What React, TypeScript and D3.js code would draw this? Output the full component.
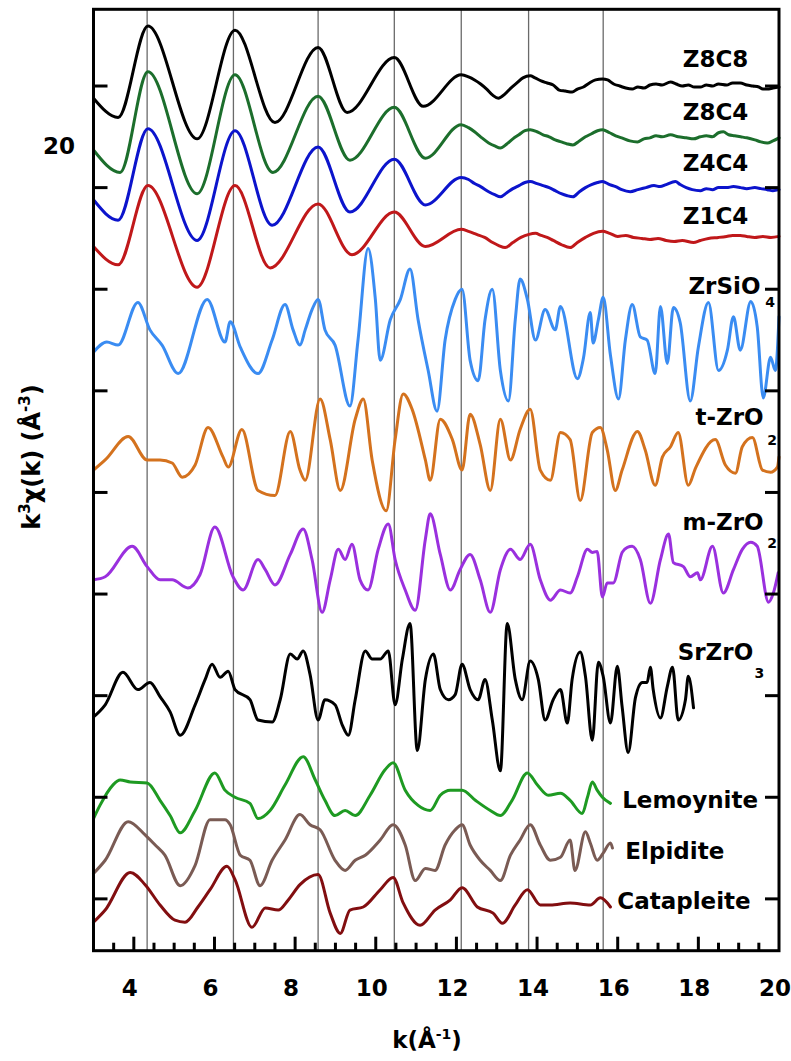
import React from 'react';
import * as d3 from 'd3';

// ---------- axes / reference values ----------
const K_DOMAIN: [number, number] = [3, 20];
const Y_DOMAIN: [number, number] = [-51, 875.5];
const X_MAJOR_TICKS = [4, 6, 8, 10, 12, 14, 16, 18, 20];
const X_MINOR_TICKS = [3.5, 4.5, 5, 5.5, 6.5, 7, 7.5, 8.5, 9, 9.5, 10.5, 11, 11.5, 12.5, 13, 13.5, 14.5, 15, 15.5, 16.5, 17, 17.5, 18.5, 19, 19.5];
const Y_TICKS = [0, 100, 200, 300, 400, 500, 600, 700, 800];
const Y_TEXT_LABEL = '20';
const Y_TEXT_VALUE = 741;
const VLINES_K = [4.33, 6.47, 8.57, 10.46, 12.12, 13.79, 15.64];

// ---------- series (k, displacement from series offset) ----------
const Z8C8: [number, number][] = [[3.0,-12],[3.61,-31],[4.35,59],[5.57,-52],[6.51,55],[7.5,-36],[8.57,38],[9.29,-26],[10.46,28],[11.18,-20],[12.12,11],[12.3,9],[12.45,6],[12.6,2],[12.75,-3],[12.9,-9],[13.04,-12],[13.2,-8],[13.35,-2],[13.5,3],[13.65,8],[13.83,10],[13.95,8],[14.1,5],[14.25,3],[14.4,1],[14.55,-4],[14.7,-5],[14.87,-6],[15.0,-3],[15.15,-1],[15.3,3],[15.45,6],[15.62,7],[15.75,6],[15.9,2],[16.05,0],[16.2,-2],[16.36,-3],[16.5,-1],[16.65,-2],[16.8,1],[16.95,2],[17.1,1],[17.31,4],[17.45,2],[17.6,0],[17.75,1],[17.9,-1],[18.05,-1],[18.2,1],[18.35,0],[18.5,2],[18.7,1],[18.85,3],[19.04,3],[19.2,1],[19.35,0],[19.5,-1],[19.6,-3],[19.71,-3],[19.85,-2],[20,-1]];
const Z8C4: [number, number][] = [[3.0,-12],[3.66,-34],[4.35,65],[5.57,-55],[6.51,62],[7.45,-34],[8.57,41],[9.36,-22],[10.46,30],[11.23,-20],[12.12,13],[12.3,10],[12.45,6],[12.6,1],[12.8,-5],[12.95,-8],[13.09,-10],[13.25,-6],[13.4,-1],[13.55,3],[13.7,7],[13.83,8],[14.0,6],[14.15,3],[14.3,1],[14.45,-2],[14.6,-4],[14.75,-6],[14.89,-7],[15.05,-3],[15.2,1],[15.35,4],[15.5,7],[15.62,8],[15.8,5],[15.95,2],[16.1,0],[16.3,-3],[16.49,-4],[16.65,-1],[16.8,0],[16.95,2],[17.1,1],[17.31,3],[17.5,1],[17.7,0],[17.88,-1],[18.05,1],[18.2,2],[18.35,1],[18.5,5],[18.62,6],[18.75,3],[18.9,2],[19.05,1],[19.2,0],[19.4,-2],[19.55,-4],[19.71,-5],[19.85,-3],[20,0]];
const Z4C4: [number, number][] = [[3.0,-12],[3.61,-32],[4.35,58],[5.57,-52],[6.51,56],[7.43,-37],[8.57,40],[9.36,-24],[10.46,28],[11.23,-17],[12.12,10],[12.3,8],[12.45,4],[12.6,1],[12.8,-4],[12.95,-7],[13.09,-9],[13.25,-5],[13.4,-1],[13.55,2],[13.7,5],[13.83,6],[14.0,4],[14.15,2],[14.3,0],[14.45,-3],[14.6,-6],[14.75,-8],[14.89,-9],[15.05,-4],[15.2,0],[15.35,3],[15.5,5],[15.62,6],[15.8,3],[15.95,1],[16.1,-2],[16.31,-4],[16.5,-2],[16.7,0],[16.9,2],[17.05,1],[17.2,3],[17.43,6],[17.55,3],[17.7,0],[17.85,-2],[18.05,-3],[18.2,-1],[18.35,-2],[18.5,0],[18.7,0],[18.87,1],[19.05,0],[19.2,-1],[19.4,0],[19.55,-1],[19.71,-2],[19.85,-3],[20,-2]];
const Z1C4: [number, number][] = [[3.0,-9],[3.61,-27],[4.35,51],[5.57,-49],[6.51,51],[7.38,-30],[8.57,33],[9.41,-17],[10.46,25],[11.23,-9],[12.12,8],[12.3,6],[12.5,3],[12.7,0],[12.9,-5],[13.05,-8],[13.21,-10],[13.4,-5],[13.6,0],[13.8,3],[13.96,4],[14.1,2],[14.25,0],[14.4,-3],[14.6,-7],[14.82,-10],[15.0,-5],[15.2,0],[15.4,4],[15.62,6],[15.8,4],[16.0,1],[16.2,2],[16.39,0],[16.6,-1],[16.8,-2],[17.0,-1],[17.2,-3],[17.4,-4],[17.6,-3],[17.88,-5],[18.05,-3],[18.25,-1],[18.5,0],[18.7,1],[18.85,2],[19.04,2],[19.2,1],[19.4,0],[19.6,1],[19.8,0],[20,1]];
const ZRSIO4: [number, number][] = [[3.0,-12],[3.33,-2],[3.61,-5],[4.1,37],[4.4,10],[4.7,-5],[5.1,-33],[5.82,40],[6.26,-2],[6.39,18],[6.64,-7],[7.08,-33],[7.43,0],[7.75,35],[7.95,10],[8.12,-5],[8.25,10],[8.42,30],[8.57,40],[8.74,10],[8.99,-5],[9.36,-65],[9.56,0],[9.81,90],[9.99,40],[10.11,-20],[10.36,20],[10.61,40],[10.85,70],[11.05,20],[11.3,-30],[11.52,-70],[11.72,0],[11.97,40],[12.14,50],[12.34,-20],[12.54,-40],[12.71,20],[12.89,50],[13.09,-30],[13.29,-60],[13.46,20],[13.58,60],[13.76,40],[13.96,0],[14.2,30],[14.45,10],[14.58,33],[15.0,-38],[15.15,-18],[15.32,27],[15.39,-3],[15.52,20],[15.64,42],[15.82,-15],[16.02,-58],[16.19,0],[16.36,35],[16.56,3],[16.73,0],[16.93,-33],[17.06,33],[17.23,-23],[17.38,32],[17.55,17],[17.8,-60],[18.0,-7],[18.25,37],[18.5,-30],[18.72,-10],[18.87,23],[19.04,-10],[19.3,38],[19.46,13],[19.61,-57],[19.79,-17],[19.91,-30],[20.0,23]];
const T_ZRO2: [number, number][] = [[3.0,-10],[3.29,0],[3.86,23],[4.33,0],[4.65,0],[4.95,-3],[5.2,-17],[5.52,-5],[5.84,32],[6.21,3],[6.34,-7],[6.68,30],[7.08,-30],[7.5,-35],[7.88,28],[8.12,-10],[8.25,-20],[8.62,60],[8.87,20],[9.12,-30],[9.49,40],[9.69,60],[9.91,0],[10.26,-50],[10.48,20],[10.68,65],[10.9,50],[11.23,0],[11.35,-20],[11.6,40],[11.9,20],[12.14,-10],[12.34,45],[12.59,15],[12.84,-30],[13.09,40],[13.34,0],[13.58,30],[13.83,50],[14.08,-10],[14.33,-20],[14.58,27],[14.82,20],[15.07,-40],[15.37,27],[15.57,32],[15.74,10],[15.94,-30],[16.11,-10],[16.49,28],[16.68,10],[16.93,-25],[17.11,3],[17.31,13],[17.5,27],[17.75,-25],[17.93,-8],[18.42,20],[18.67,-5],[18.92,-13],[19.09,13],[19.34,22],[19.59,-10],[19.79,-12],[19.96,-7],[20,3]];
const M_ZRO2: [number, number][] = [[3.0,-5],[3.29,-2],[3.96,28],[4.33,8],[4.65,-5],[4.95,-5],[5.34,-13],[5.64,0],[6.01,47],[6.46,-2],[6.71,-15],[7.08,15],[7.26,5],[7.5,-10],[7.88,20],[8.2,45],[8.42,15],[8.67,-37],[8.87,-5],[9.07,25],[9.24,15],[9.41,30],[9.61,-5],[9.81,-15],[10.06,25],[10.31,50],[10.48,15],[10.73,-15],[10.98,-35],[11.23,35],[11.35,60],[11.6,20],[11.85,-15],[12.09,5],[12.34,20],[12.59,-5],[12.84,-37],[13.09,5],[13.34,25],[13.58,15],[13.83,30],[14.08,-5],[14.33,-25],[14.58,-15],[14.82,-18],[15.0,-2],[15.25,25],[15.37,22],[15.49,23],[15.62,-22],[15.74,-8],[15.89,-8],[16.11,22],[16.24,27],[16.36,28],[16.56,15],[16.81,-28],[17.06,15],[17.26,40],[17.38,12],[17.63,8],[17.8,-2],[17.98,2],[18.05,-5],[18.35,28],[18.62,-18],[18.87,5],[19.09,25],[19.3,32],[19.46,28],[19.74,-27],[19.86,-18],[19.98,2]];
const SRZRO3: [number, number][] = [[3.0,-17],[3.29,-5],[3.73,27],[4.1,10],[4.4,17],[4.65,3],[4.9,-12],[5.15,-35],[5.52,-5],[5.77,20],[5.94,35],[6.14,22],[6.34,28],[6.51,10],[6.88,0],[7.08,-20],[7.43,-22],[7.63,0],[7.88,45],[8.05,40],[8.2,48],[8.37,25],[8.57,-20],[8.74,0],[8.99,-5],[9.17,-25],[9.32,-35],[9.49,0],[9.74,48],[9.91,40],[10.11,40],[10.31,48],[10.48,-5],[10.66,40],[10.85,75],[11.03,-50],[11.23,20],[11.43,45],[11.6,10],[11.8,0],[11.97,5],[12.14,35],[12.34,10],[12.54,0],[12.71,20],[12.89,-20],[13.09,-70],[13.26,75],[13.46,20],[13.63,0],[13.83,38],[14.03,20],[14.2,-20],[14.4,0],[14.58,10],[14.75,-23],[14.87,20],[15.07,47],[15.2,23],[15.37,-40],[15.52,37],[15.64,23],[15.82,-23],[15.99,33],[16.11,-7],[16.26,-52],[16.44,2],[16.61,17],[16.73,17],[16.81,32],[16.88,10],[17.06,-18],[17.23,13],[17.36,32],[17.5,-20],[17.68,0],[17.75,23],[17.88,-8]];
const LEMOYNITE: [number, number][] = [[3.0,-23],[3.16,-10],[3.48,10],[3.66,15],[3.91,13],[4.33,12],[4.65,-5],[4.9,-20],[5.15,-37],[5.52,-15],[6.01,22],[6.26,5],[6.51,-2],[6.88,-8],[7.08,-23],[7.38,-15],[7.75,10],[8.2,38],[8.5,15],[8.74,-5],[8.99,-20],[9.24,-15],[9.49,-20],[9.86,0],[10.23,25],[10.43,32],[10.73,5],[11.05,-10],[11.35,-15],[11.6,0],[11.85,5],[12.14,5],[12.47,-5],[12.84,-15],[13.09,-20],[13.38,-5],[13.76,22],[14.01,10],[14.28,0],[14.58,2],[14.82,-5],[15.12,-18],[15.25,-2],[15.37,13],[15.49,5],[15.62,-2],[15.82,-8]];
const ELPIDITE: [number, number][] = [[3.0,-23],[3.29,-10],[3.86,28],[4.28,15],[4.53,5],[4.77,-5],[5.15,-35],[5.52,-15],[5.89,30],[6.26,30],[6.39,25],[6.64,-5],[6.88,-10],[7.13,-35],[7.43,-10],[7.75,10],[8.12,35],[8.37,25],[8.62,20],[8.99,-10],[9.24,-20],[9.49,-10],[9.74,-5],[10.11,10],[10.43,25],[10.73,5],[10.98,-30],[11.23,-18],[11.47,-20],[11.72,5],[11.97,20],[12.14,25],[12.34,5],[12.59,-10],[12.84,-20],[13.09,-30],[13.34,-5],[13.58,10],[13.83,25],[14.08,5],[14.33,-10],[14.58,-7],[14.82,10],[14.94,-20],[15.2,18],[15.32,7],[15.49,-10],[15.64,-3],[15.82,7],[15.87,2]];
const CATAPLEITE: [number, number][] = [[3.0,-17],[3.29,-5],[3.91,32],[4.28,20],[4.65,0],[5.02,-15],[5.27,-17],[5.59,-2],[5.89,15],[6.31,38],[6.51,25],[6.93,-22],[7.26,-3],[7.58,-5],[7.83,5],[8.12,20],[8.57,30],[8.87,-8],[9.12,-28],[9.36,-5],[9.69,-2],[10.11,15],[10.43,27],[10.68,2],[11.1,-20],[11.47,-5],[11.85,5],[12.14,17],[12.52,-2],[12.91,-8],[13.14,-18],[13.46,0],[13.76,15],[14.08,0],[14.33,0],[14.82,2],[15.32,0],[15.57,7],[15.82,-2]];

const SERIES_DATA = [Z8C8, Z8C4, Z4C4, Z1C4, ZRSIO4, T_ZRO2, M_ZRO2, SRZRO3, LEMOYNITE, ELPIDITE, CATAPLEITE];
const SERIES_OFFSETS = [800, 749, 700, 651, 550, 432, 319, 196, 102, 48, -6];
const SERIES_NAMES = ['Z8C8', 'Z8C4', 'Z4C4', 'Z1C4', 'ZrSiO', 't-ZrO', 'm-ZrO', 'SrZrO', 'Lemoynite', 'Elpidite', 'Catapleite'];
const SERIES_SUBS = ['', '', '', '', '4', '2', '2', '3', '', '', ''];

// ---------- styles / layout ----------
const COLORS = ['#000000', '#1c6e2c', '#0c14cc', '#c0181a', '#3a8cf2', '#d4721e', '#9a30de', '#000000', '#1e9a22', '#7a5b54', '#820e10'];
// label anchor (k, value); subscript anchor (k, value)
const LABEL_POS: { k: number; v: number; anchor: 'start' | 'end'; sk: number; sv: number }[] = [
  { k: 19.24, v: 819, anchor: 'end', sk: 0, sv: 0 },
  { k: 19.24, v: 767, anchor: 'end', sk: 0, sv: 0 },
  { k: 19.24, v: 716, anchor: 'end', sk: 0, sv: 0 },
  { k: 19.24, v: 664, anchor: 'end', sk: 0, sv: 0 },
  { k: 19.54, v: 595, anchor: 'end', sk: 19.66, sv: 583 },
  { k: 19.62, v: 466, anchor: 'end', sk: 19.71, sv: 447 },
  { k: 19.62, v: 363, anchor: 'end', sk: 19.71, sv: 345 },
  { k: 19.36, v: 235, anchor: 'end', sk: 19.39, sv: 217 },
  { k: 16.11, v: 89, anchor: 'start', sk: 0, sv: 0 },
  { k: 16.19, v: 39, anchor: 'start', sk: 0, sv: 0 },
  { k: 15.99, v: -10, anchor: 'start', sk: 0, sv: 0 },
];

const W = 791, H = 1061;
const PL = 93.5, PR = 779, PT = 9.3, PB = 950.7;
const FONT = '"DejaVu Sans", sans-serif';

export default function App() {
  const x = d3.scaleLinear().domain(K_DOMAIN).range([PL, PR]);
  const y = d3.scaleLinear().domain(Y_DOMAIN).range([PB, PT]);

  const line = (off: number) =>
    d3.line<[number, number]>()
      .x(d => x(d[0]))
      .y(d => y(off + d[1]))
      .curve(d3.curveMonotoneX);

  return (
    <svg width={W} height={H} style={{ position: 'absolute', left: 0, top: 0, background: '#fff' }} fontFamily={FONT}>
      <rect x={0} y={0} width={W} height={H} fill="#fff" />
      {VLINES_K.map((k, i) => (
        <line key={'v' + i} x1={x(k)} x2={x(k)} y1={PT} y2={PB} stroke="#6a6a6a" strokeWidth={1.3} />
      ))}
      {SERIES_DATA.map((data, i) => (
        <path key={'s' + i} d={line(SERIES_OFFSETS[i])(data) || ''} fill="none" stroke={COLORS[i]} strokeWidth={3} strokeLinejoin="round" strokeLinecap="round" />
      ))}
      <rect x={PL} y={PT} width={PR - PL} height={PB - PT} fill="none" stroke="#000" strokeWidth={3} />
      {Y_TICKS.map((v, i) => (
        <g key={'yt' + i}>
          <line x1={PL} x2={PL + 14} y1={y(v)} y2={y(v)} stroke="#000" strokeWidth={3} />
          <line x1={PR - 14} x2={PR} y1={y(v)} y2={y(v)} stroke="#000" strokeWidth={3} />
        </g>
      ))}
      {X_MAJOR_TICKS.map((k, i) => (
        <g key={'xt' + i}>
          {k < K_DOMAIN[1] && <line x1={x(k)} x2={x(k)} y1={PB} y2={PB - 14} stroke="#000" strokeWidth={3} />}
          <text x={x(k) - 4} y={996} textAnchor="middle" fontSize={23} fontWeight="bold">{k}</text>
        </g>
      ))}
      {X_MINOR_TICKS.map((k, i) => (
        <line key={'xm' + i} x1={x(k)} x2={x(k)} y1={PB} y2={PB - 8} stroke="#000" strokeWidth={3} />
      ))}
      <text x={59} y={y(Y_TEXT_VALUE) + 8} textAnchor="middle" fontSize={23} fontWeight="bold">{Y_TEXT_LABEL}</text>
      {SERIES_NAMES.map((name, i) => {
        const p = LABEL_POS[i];
        return (
          <g key={'l' + i}>
            <text x={x(p.k)} y={y(p.v)} textAnchor={p.anchor} fontSize={23} fontWeight="bold" fill="#000">{name}</text>
            {SERIES_SUBS[i] && (
              <text x={x(p.sk)} y={y(p.sv)} fontSize={14} fontWeight="bold" fill="#000">{SERIES_SUBS[i]}</text>
            )}
          </g>
        );
      })}
      <text transform={`translate(40,457) rotate(-90)`} textAnchor="middle" fontSize={24} fontWeight="bold">
        k<tspan fontSize={15} dy={-10}>3</tspan><tspan dy={10}>χ(k) (Å</tspan><tspan fontSize={15} dy={-10}>-3</tspan><tspan dy={10}>)</tspan>
      </text>
      <text x={427} y={1048} textAnchor="middle" fontSize={23} fontWeight="bold">
        k(Å<tspan fontSize={14} dy={-9}>-1</tspan><tspan dy={9}>)</tspan>
      </text>
    </svg>
  );
}
